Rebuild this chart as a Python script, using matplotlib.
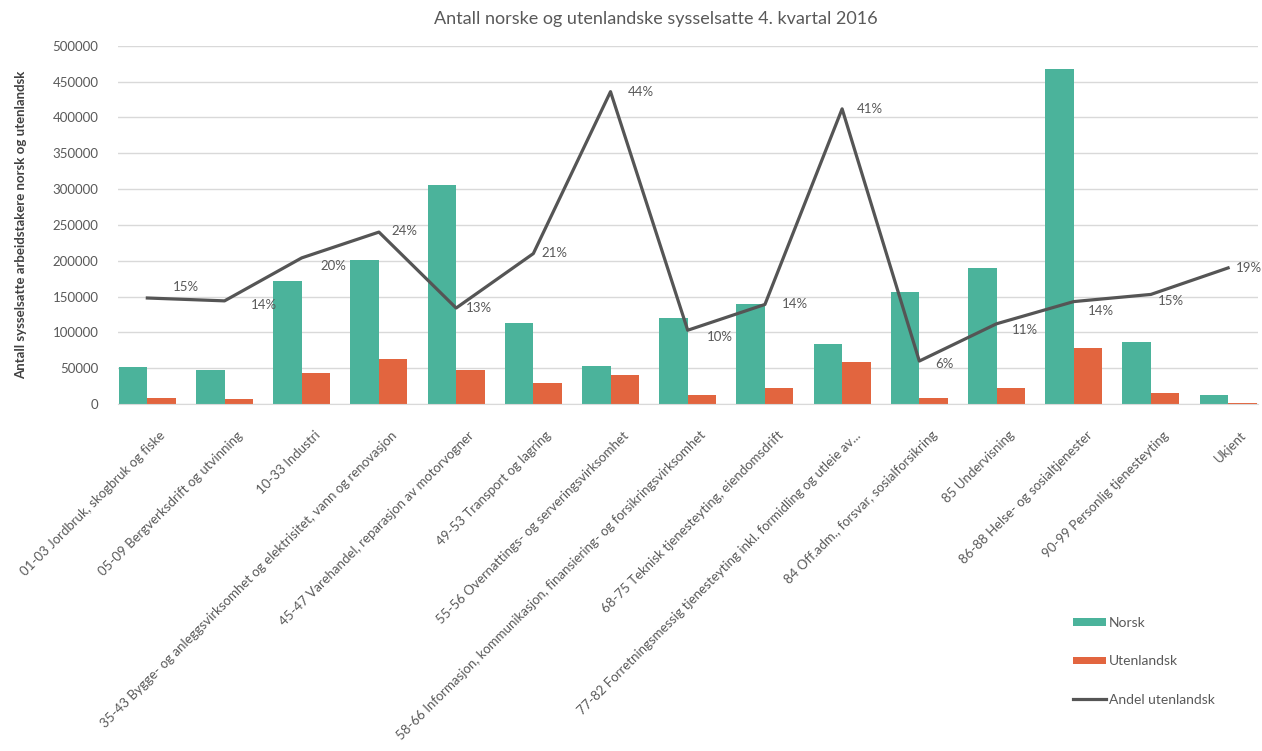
import matplotlib.pyplot as plt
import matplotlib.transforms as mtransforms
import numpy as np

plt.rcParams['font.family'] = ['Lato', 'DejaVu Sans']

categories = [
    '01-03 Jordbruk, skogbruk og fiske',
    '05-09 Bergverksdrift og utvinning',
    '10-33 Industri',
    '35-43 Bygge- og anleggsvirksomhet og elektrisitet, vann og renovasjon',
    '45-47 Varehandel, reparasjon av motorvogner',
    '49-53 Transport og lagring',
    '55-56 Overnattings- og serveringsvirksomhet',
    '58-66 Informasjon, kommunikasjon, finansiering- og forsikringsvirksomhet',
    '68-75 Teknisk tjenesteyting, eiendomsdrift',
    '77-82 Forretningsmessig tjenesteyting inkl. formidling og utleie av...',
    '84 Off.adm., forsvar, sosialforsikring',
    '85 Undervisning',
    '86-88 Helse- og sosialtjenester',
    '90-99 Personlig tjenesteyting',
    'Ukjent',
]
norsk = [52000, 47500, 172000, 201000, 306000, 113000, 53000, 120000,
         140000, 84000, 156000, 190000, 467000, 86000, 13000]
utenlandsk = [9000, 7500, 43000, 63000, 47000, 30000, 41000, 13000,
              22000, 58000, 9000, 23000, 78000, 15000, 2000]
andel = [0.148, 0.144, 0.204, 0.240, 0.134, 0.210, 0.436, 0.103,
         0.139, 0.412, 0.060, 0.112, 0.143, 0.153, 0.190]
andel_labels = ['15%', '14%', '20%', '24%', '13%', '21%', '44%', '10%',
                '14%', '41%', '6%', '11%', '14%', '15%', '19%']
# label offsets in pixels (dx, dy)
label_offsets = [(26, 11), (26, -4), (19, -8), (13, 1), (10, 0), (8, 1),
                 (17, 0), (19, -7), (17, 0), (15, 0), (16, -3), (15, -6),
                 (14, -9), (7, -7), (8, 0)]

teal = '#4BB39B'
orange = '#E2653F'
gray_line = '#555555'
text_gray = '#595959'

fig = plt.figure(figsize=(12.62, 7.51), dpi=100)
ax = fig.add_axes([0.0935, 0.462, 0.9035, 0.477])

x = np.arange(len(categories))
w = 0.37
ax.bar(x - w / 2, norsk, w, color=teal, label='Norsk', zorder=2)
ax.bar(x + w / 2, utenlandsk, w, color=orange, label='Utenlandsk', zorder=2)

ax.set_ylim(0, 500000)
ax.set_yticks(np.arange(0, 500001, 50000))
ax.set_xlim(-0.38, 14.39)
ax.yaxis.grid(True, color='#D9D9D9', linewidth=1, zorder=0)
ax.set_axisbelow(True)
for s in ['top', 'right', 'left']:
    ax.spines[s].set_visible(False)
ax.spines['bottom'].set_color('#D9D9D9')
ax.tick_params(axis='both', length=0, colors=text_gray, labelsize=9.5)
ax.tick_params(axis='y', pad=14)
ax.set_xticks(x)
ax.set_xticklabels(categories, rotation=45, ha='right', rotation_mode='anchor',
                   fontsize=9.5, color=text_gray)
ax.tick_params(axis='x', pad=18)
shift = mtransforms.ScaledTranslation(12 / 100, 0, fig.dpi_scale_trans)
for lbl in ax.get_xticklabels():
    lbl.set_transform(lbl.get_transform() + shift)
ax.set_ylabel('Antall sysselsatte arbeidstakere norsk og utenlandsk',
              fontsize=9.5, fontweight='bold', color='#404040', labelpad=8)
ax.yaxis.set_label_coords(-0.08, 0.5)

ax2 = ax.twinx()
ax2.set_ylim(0, 0.5)
ax2.plot(x, andel, color=gray_line, linewidth=2.3, label='Andel utenlandsk', zorder=3)
ax2.axis('off')
for xi, v, lab, (dx, dy) in zip(x, andel, andel_labels, label_offsets):
    ax2.annotate(lab, (xi, v), xytext=(dx, dy), textcoords='offset pixels',
                 ha='left', va='center', fontsize=9.5, color=text_gray)

fig.suptitle('Antall norske og utenlandske sysselsatte 4. kvartal 2016',
             x=0.52, y=0.985, fontsize=13, color=text_gray)

h1, l1 = ax.get_legend_handles_labels()
h2, l2 = ax2.get_legend_handles_labels()
fig.legend(h1 + h2, l1 + l2, loc='upper left', bbox_to_anchor=(0.84, 0.195),
           frameon=False, fontsize=10, labelcolor=text_gray,
           handlelength=2.4, handleheight=0.5, labelspacing=1.9,
           handletextpad=0.2)

fig.savefig('out.png', dpi=100)
